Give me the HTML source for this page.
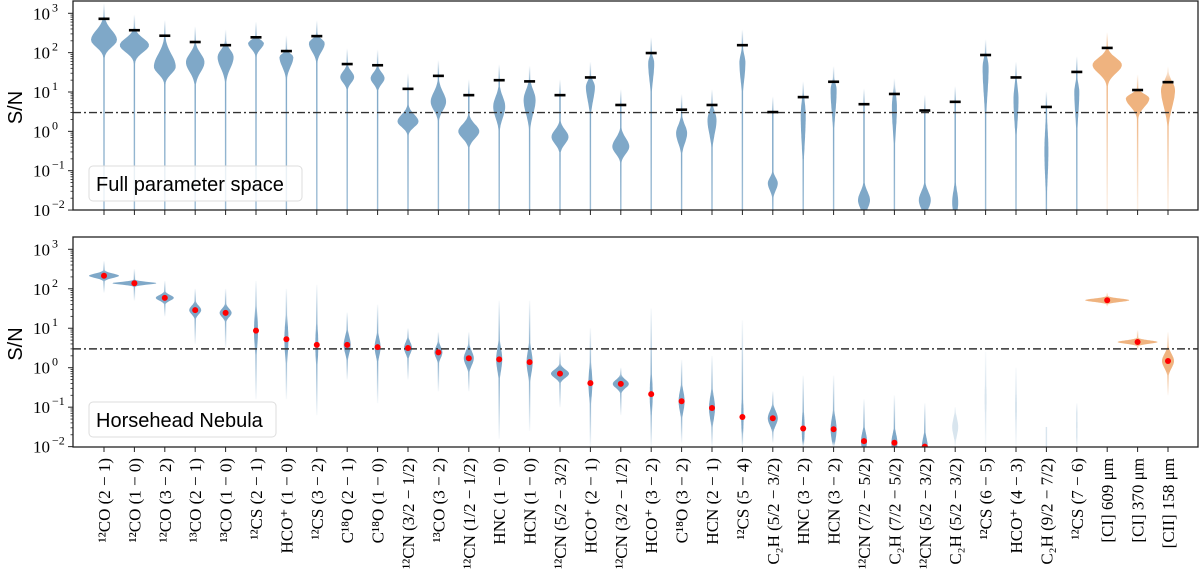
<!DOCTYPE html>
<html><head><meta charset="utf-8">
<style>
html,body{margin:0;padding:0;background:#fff;}
svg{display:block;}
.tl{font-family:"Liberation Serif",serif;font-size:17px;fill:#000;}
.lab{font-family:"Liberation Serif",serif;font-size:17px;fill:#000;}
.leg{font-family:"Liberation Sans","DejaVu Sans",sans-serif;font-size:20px;fill:#000;}
</style></head>
<body>
<svg id="chart" width="1200" height="570" viewBox="0 0 1200 570" xmlns="http://www.w3.org/2000/svg"></svg>
<script>
// ---- data ----
const categories = [
 ["¹²CO","(2 − 1)"],["¹²CO","(1 − 0)"],["¹²CO","(3 − 2)"],["¹³CO","(2 − 1)"],["¹³CO","(1 − 0)"],
 ["¹²CS","(2 − 1)"],["HCO⁺","(1 − 0)"],["¹²CS","(3 − 2)"],["C¹⁸O","(2 − 1)"],["C¹⁸O","(1 − 0)"],
 ["¹²CN","(3/2 − 1/2)"],["¹³CO","(3 − 2)"],["¹²CN","(1/2 − 1/2)"],["HNC","(1 − 0)"],["HCN","(1 − 0)"],
 ["¹²CN","(5/2 − 3/2)"],["HCO⁺","(2 − 1)"],["¹²CN","(3/2 − 1/2)"],["HCO⁺","(3 − 2)"],["C¹⁸O","(3 − 2)"],
 ["HCN","(2 − 1)"],["¹²CS","(5 − 4)"],["C₂H","(5/2 − 3/2)"],["HNC","(3 − 2)"],["HCN","(3 − 2)"],
 ["¹²CN","(7/2 − 5/2)"],["C₂H","(7/2 − 5/2)"],["¹²CN","(5/2 − 3/2)"],["C₂H","(5/2 − 3/2)"],["¹²CS","(6 − 5)"],
 ["HCO⁺","(4 − 3)"],["C₂H","(9/2 − 7/2)"],["¹²CS","(7 − 6)"],["[CI]","609 μm"],["[CI]","370 μm"],["[CII]","158 μm"]
];
const isCarbon = [0,0,0,0,0,0,0,0,0,0,0,0,0,0,0,0,0,0,0,0,0,0,0,0,0,0,0,0,0,0,0,0,0,1,1,1];
// top panel (log10 S/N)
const topMax = [2.86,2.57,2.43,2.27,2.19,2.39,2.04,2.42,1.71,1.68,1.08,1.41,0.92,1.30,1.27,0.92,1.37,0.67,1.99,0.55,0.67,2.19,0.49,0.87,1.26,0.69,0.95,0.53,0.75,1.94,1.37,0.62,1.51,2.12,1.05,1.25];
const topMode = [2.32,2.19,1.64,1.76,1.89,2.24,1.89,2.24,1.38,1.35,0.25,0.75,0.0,0.63,0.80,-0.14,1.14,-0.39,1.74,-0.05,0.29,1.74,-1.32,0.4,1.05,-1.75,0.6,-1.75,-1.8,1.64,0.8,-0.5,1.0,1.69,0.84,1.05];
const topWidth = [13,14.7,11,9.3,8,8,7,8,7,7,10.5,7.7,10.5,6,6,8.5,4.5,8.5,3,5.5,4.5,3,5,2.5,3,6,2.5,6,3,3,2.5,2,2.5,14.7,11.8,7];
const topSpreadUp = [.35,.25,.45,.3,.25,.12,.12,.15,.2,.2,.25,.35,.25,.35,.35,.25,.2,.3,.2,.3,.3,.3,.2,.5,.25,.3,.5,.3,.4,.3,.5,.8,.3,.25,.15,.3];
const topSpreadDown = [.25,.25,.25,.35,.4,.2,.35,.3,.2,.2,.2,.3,.25,.4,.5,.25,.5,.25,.6,.35,.5,.6,.25,1.0,.8,.3,.8,.3,.4,1.0,.8,1.0,.8,.3,.3,.6];
// bottom panel
const hhValue = [2.33,2.14,1.77,1.46,1.39,0.94,0.72,0.58,0.58,0.52,0.50,0.39,0.24,0.21,0.14,-0.15,-0.39,-0.41,-0.67,-0.85,-1.02,-1.25,-1.28,-1.54,-1.56,-1.86,-1.90,-2.0,null,null,null,null,null,1.71,0.65,0.17];
const hhLow = [1.9,1.7,1.3,0.6,0.5,-0.8,-0.8,-1.2,-0.3,-0.9,-0.3,-0.6,-0.6,-1.8,-1.6,-1.0,-2,-1.2,-2,-1.9,-2,-2,-1.9,-2,-2,-2,-2,-2,-2,-2,-2,-2,-2,1.55,0.45,-0.7];
const hhHigh = [2.7,2.5,2.2,2.0,2.0,2.2,2.0,2.1,1.4,1.6,1.0,0.9,0.9,1.7,1.7,0.4,1.0,0.0,1.5,0.2,0.3,1.2,-0.6,-0.2,-0.2,-0.8,-0.7,-0.9,-1.0,0.4,0.0,-1.5,-0.9,1.9,0.95,0.9];
const hhWidth = [15,22,9,6,6,2,2,1.5,3.5,3,4,4,5,3,3,9,2,8,1.5,3,3,1.2,5,1.5,3,3,3,3,3,1,1,0.5,0.8,22,20,6];
const hhSpread = [.08,.05,.1,.15,.15,.6,.6,.6,.3,.3,.2,.2,.25,.4,.4,.15,.5,.15,.6,.35,.4,.6,.25,.5,.4,.3,.3,.3,.3,.6,.6,.3,.3,.06,.06,.25];
const yTicks = [3,2,1,0,-1,-2];
const threshold = 3;

// ---- layout ----
const svg = document.getElementById('chart');
const NS = 'http://www.w3.org/2000/svg';
const L = 73, R = 1198;
const panels = [
  {top:1, bottom:210, y3:13.3, dec:39.35},
  {top:237, bottom:447, y3:249.3, dec:39.47}
];
function xOf(i){ return 104 + i*30.4; }
function yOf(p, lg){ return p.y3 + (3-lg)*p.dec; }
function mk(tag, attrs, parent){
  const e = document.createElementNS(NS, tag);
  for (const k in attrs) e.setAttribute(k, attrs[k]);
  (parent||svg).appendChild(e); return e;
}
const BLUE = '#7fa8c8', ORANGE = '#efb37f';
const defs = mk('defs', {});

function violinPath(p, x, mode, w, sUp, sDn, lo, hi){
  const thin = 0.7; const pts = [];
  const n = 80;
  for (let k=0;k<=n;k++){
    const lg = hi - (hi-lo)*k/n;
    const d = lg-mode, s = d>0 ? sUp : sDn;
    const h = Math.max(thin, w*Math.exp(-(d/s)*(d/s)));
    pts.push([lg,h]);
  }
  let dstr = '';
  pts.forEach((q,k)=>{ dstr += (k?'L':'M') + (x+q[1]).toFixed(1)+','+yOf(p,q[0]).toFixed(1); });
  for (let k=pts.length-1;k>=0;k--){ dstr += 'L' + (x-pts[k][1]).toFixed(1)+','+yOf(p,pts[k][0]).toFixed(1); }
  return dstr+'Z';
}
function grad(id, p, col, hi, lo, stops){
  const g = mk('linearGradient', {id:id, gradientUnits:'userSpaceOnUse', x1:0, x2:0, y1:yOf(p,hi), y2:yOf(p,lo)}, defs);
  stops.forEach(s=>{
    let off = (hi - s[0])/(hi-lo); off = Math.min(1, Math.max(0, off));
    mk('stop', {offset:off, 'stop-color':col, 'stop-opacity':s[1]}, g);
  });
}

panels.forEach((p, pi)=>{
  const g = mk('g', {});
  
  
  const clipId = 'clip'+pi;
  const cp = mk('clipPath', {id:clipId}, g);
  mk('rect', {x:L, y:p.top, width:R-L, height:p.bottom-p.top}, cp);
  const marks = mk('g', {'clip-path':'url(#'+clipId+')'}, g);
  categories.forEach((c,i)=>{
    const x = xOf(i), col = isCarbon[i] ? ORANGE : BLUE;
    const gid = 'g'+pi+'_'+i;
    let d;
    if (pi===0){
      const hi = topMax[i]+0.4, lo = -2.05;
      d = violinPath(p, x, topMode[i], topWidth[i], topSpreadUp[i], topSpreadDown[i], lo, hi);
      const tailOp = isCarbon[i] ? 0.15 : 0.75;
      grad(gid, p, col, hi, lo, [[hi,0],[topMax[i]-0.05,1],[Math.min(topMode[i], topMax[i])-topSpreadDown[i],1],[lo,tailOp]]);
    } else {
      const m = hhValue[i]===null ? (hhLow[i]+hhHigh[i])/2 : hhValue[i];
      d = violinPath(p, x, m, hhWidth[i], hhSpread[i], hhSpread[i], hhLow[i], hhHigh[i]);
      const peak = hhValue[i]===null ? 0.3 : 1;
      const s = Math.min(hhSpread[i], 0.3);
      grad(gid, p, col, hhHigh[i], hhLow[i], [[hhHigh[i],0.05],[m+s,peak],[m-s,peak],[hhLow[i],0.05]]);
    }
    const v = mk('path', {d:d, fill:'url(#'+gid+')'}, marks);
    
    
  });
  const ty = yOf(p, Math.log10(threshold));
  const tl = mk('line', {x1:L, x2:R, y1:ty, y2:ty, stroke:'#333', 'stroke-width':1.4, 'stroke-dasharray':'8,3,2,3'}, marks);
  
  
  categories.forEach((c,i)=>{
    const x = xOf(i);
    if (pi===0){
      const y = yOf(p, topMax[i]);
      const m = mk('line', {x1:x-5.5, x2:x+5.5, y1:y, y2:y, stroke:'#000', 'stroke-width':2.6}, marks);
      
      
    } else if (hhValue[i]!==null){
      const dot = mk('circle', {cx:x, cy:yOf(p, hhValue[i]), r:3, fill:'#ff0000'}, marks);
      
      
    }
  });
  mk('rect', {x:L, y:p.top, width:R-L, height:p.bottom-p.top, fill:'none', stroke:'#222', 'stroke-width':1.3}, g);
  yTicks.forEach(t=>{
    const y = yOf(p,t);
    mk('line', {x1:L-5, x2:L, y1:y, y2:y, stroke:'#222', 'stroke-width':1}, g);
    const tx = mk('text', {x:50, y:y+6, class:'tl', 'text-anchor':'end'}, g);
    tx.textContent = '10';
    
    
    const sup = mk('tspan', {x:52, dy:-8, 'font-size':'12', 'text-anchor':'start'}, g);
    tx.appendChild(sup);
    sup.textContent = t<0 ? '−'+(-t) : ''+t;
    if (t>-2) for (let m=2;m<10;m++){
      const ym = yOf(p, t-1+Math.log10(m));
      mk('line', {x1:L-2.5, x2:L, y1:ym, y2:ym, stroke:'#222', 'stroke-width':0.8}, g);
    }
  });
  categories.forEach((c,i)=>{
    mk('line', {x1:xOf(i), x2:xOf(i), y1:p.bottom, y2:p.bottom+5, stroke:'#222', 'stroke-width':1}, g);
  });
  const yt = mk('text', {transform:'translate(22,'+((p.top+p.bottom)/2+2)+') rotate(-90)', class:'leg', 'text-anchor':'middle', 'font-size':'19'}, g);
  yt.textContent = 'S/N';
  
  
  const lb = pi===0 ? {x:89,y:166,w:213,h:35,t:'Full parameter space'} : {x:89,y:402,w:187,h:35,t:'Horsehead Nebula'};
  const lg = mk('g', {}, g);
  
  
  mk('rect', {x:lb.x, y:lb.y, width:lb.w, height:lb.h, rx:4, fill:'#fff', 'fill-opacity':0.8, stroke:'#ddd'}, lg);
  const lt = mk('text', {x:lb.x+7, y:lb.y+25, class:'leg'}, lg);
  lt.textContent = lb.t;
});

categories.forEach((c,i)=>{
  const t = mk('text', {transform:'translate('+(xOf(i)+6)+',458) rotate(-90)', class:'lab', 'text-anchor':'end'});
  
  
  t.textContent = c[0] + ' ' + c[1];
});
</script>
</body></html>
